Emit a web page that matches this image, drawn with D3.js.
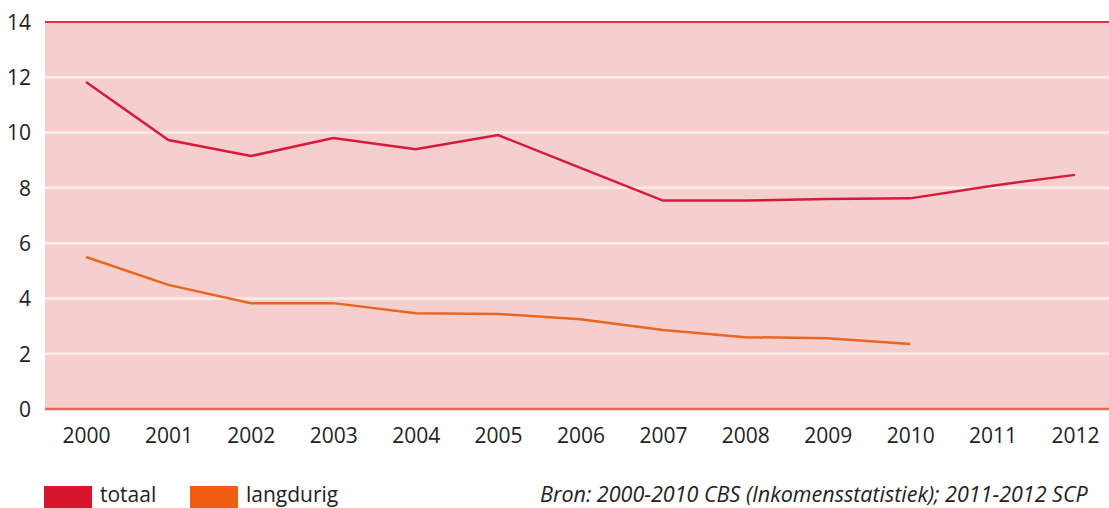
<!DOCTYPE html>
<html>
<head>
    <script src="https://d3js.org/d3.v7.min.js"></script>
    <style>
        body { margin: 0; background: #fff; overflow: hidden; }
        text { font-family: "Open Sans", "Noto Sans", sans-serif; fill: #222; }
    </style>
</head>
<body>
    <svg id="chart"></svg>
    <script>
        // Data
        const years = [2000, 2001, 2002, 2003, 2004, 2005, 2006, 2007, 2008, 2009, 2010, 2011, 2012];
        const totaal = [11.83, 9.73, 9.15, 9.8, 9.4, 9.91, 8.72, 7.54, 7.54, 7.6, 7.62, 8.08, 8.47];
        const langdurig = [5.5, 4.49, 3.83, 3.83, 3.46, 3.44, 3.25, 2.86, 2.6, 2.56, 2.35];
        const yTicks = [0, 2, 4, 6, 8, 10, 12, 14];
        const seriesNames = ["totaal", "langdurig"];
        const source = "Bron: 2000-2010 CBS (Inkomensstatistiek); 2011-2012 SCP";

        const width = 1109, height = 508;
        const plotLeft = 45, plotRight = 1109, plotTop = 22, plotBottom = 409;

        const svg = d3.select("#chart")
            .attr("width", width)
            .attr("height", height);

        // Scales
        const x = d3.scalePoint()
            .domain(years)
            .range([86, 1075]);
        const y = d3.scaleLinear()
            .domain([0, 14])
            .range([plotBottom, plotTop]);

        const colors = { totaal: "#d51a3c", langdurig: "#e8661f" };
        const swatch = { totaal: "#d7162e", langdurig: "#ee5c12" };

        // Plot background
        svg.append("rect")
            .attr("x", plotLeft).attr("y", plotTop)
            .attr("width", plotRight - plotLeft).attr("height", plotBottom - plotTop)
            .attr("fill", "#f5cfcd");

        // Gridlines
        svg.append("g")
            .selectAll("line")
            .data(yTicks.filter(d => d > 0 && d < 14))
            .join("line")
                .attr("x1", plotLeft).attr("x2", plotRight)
                .attr("y1", d => y(d)).attr("y2", d => y(d))
                .attr("stroke", "#fcece8")
                .attr("stroke-width", 2.5);

        // Top and bottom border lines
        svg.append("line")
            .attr("x1", plotLeft).attr("x2", plotRight)
            .attr("y1", y(14)).attr("y2", y(14))
            .attr("stroke", "#d8323f").attr("stroke-width", 2);
        svg.append("line")
            .attr("x1", plotLeft).attr("x2", plotRight)
            .attr("y1", y(0)).attr("y2", y(0))
            .attr("stroke", "#e4675c").attr("stroke-width", 2.5);

        // Y axis labels
        const yAxis = d3.axisLeft(y).tickValues(yTicks).tickSize(0).tickPadding(0);
        svg.append("g")
            .attr("transform", "translate(31,0)")
            .call(yAxis)
            .call(g => g.select(".domain").remove())
            .selectAll("text")
                .attr("dy", "0.35em")
                .style("font-size", "21px")
                .attr("fill", "#222");

        // X axis labels
        const xAxis = d3.axisBottom(x).tickSize(0).tickPadding(0);
        svg.append("g")
            .attr("transform", "translate(0,430)")
            .call(xAxis)
            .call(g => g.select(".domain").remove())
            .selectAll("text")
                .attr("dy", "0.6em")
                .style("font-size", "21px")
                .attr("fill", "#222");

        // Lines
        const line = d3.line()
            .x((d, i) => x(years[i]))
            .y(d => y(d));

        svg.append("path")
            .datum(totaal)
            .attr("d", line)
            .attr("fill", "none")
            .attr("stroke", colors.totaal)
            .attr("stroke-width", 2.5);

        svg.append("path")
            .datum(langdurig)
            .attr("d", line)
            .attr("fill", "none")
            .attr("stroke", colors.langdurig)
            .attr("stroke-width", 2.5);

        // Legend
        const legendX = [44, 190];
        const legend = svg.append("g")
            .selectAll("g")
            .data(seriesNames)
            .join("g")
                .attr("transform", (d, i) => `translate(${legendX[i]},486)`);
        legend.append("rect")
            .attr("width", 48).attr("height", 22)
            .attr("fill", d => swatch[d]);
        legend.append("text")
            .attr("x", 56).attr("y", 16)
            .style("font-size", "21px")
            .text(d => d);

        // Source
        svg.append("text")
            .attr("x", 540).attr("y", 502)
            .style("font-size", "21.5px")
            .style("font-style", "italic")
            .text(source);
    </script>
</body>
</html>
